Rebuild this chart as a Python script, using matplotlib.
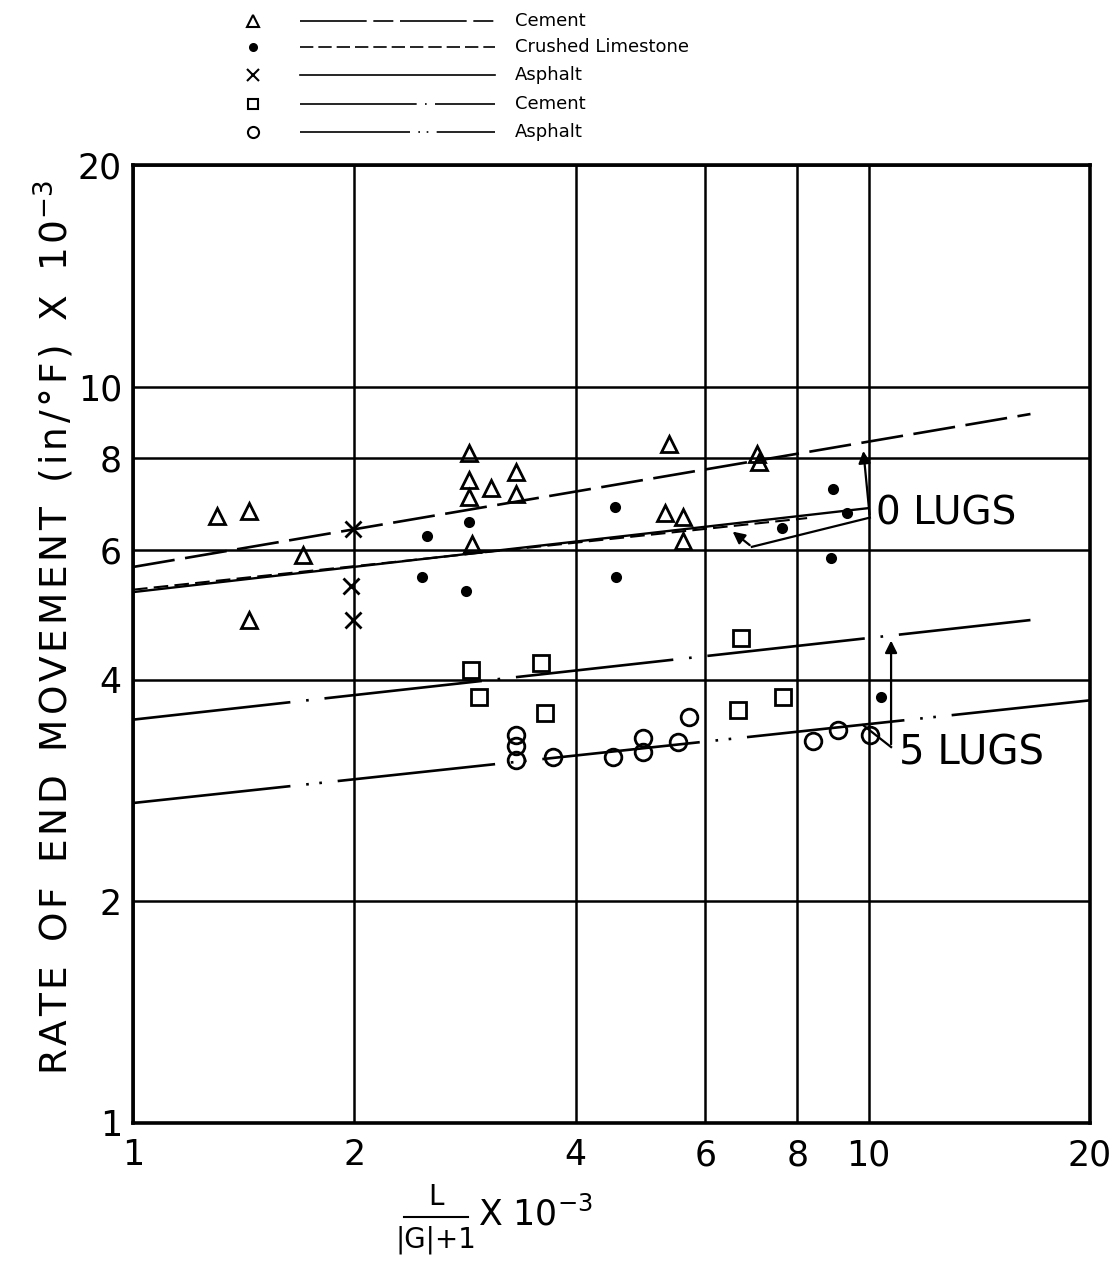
import matplotlib
matplotlib.use("Agg")
import matplotlib.pyplot as plt
from matplotlib.lines import Line2D

# ---- data: rate of end movement vs L/(|G|+1) ----
# 0 lugs
tri_x = [1.30, 1.44, 1.70, 1.44, 2.86, 2.86, 2.86, 3.07, 3.32, 3.32, 2.89,
         5.35, 5.29, 5.59, 5.59, 7.05, 7.10]
tri_y = [6.67, 6.78, 5.91, 4.82, 8.13, 7.47, 7.08, 7.28, 7.66, 7.15, 6.11,
         8.36, 6.74, 6.65, 6.17, 8.10, 7.90]

lime_x = [2.51, 2.86, 2.47, 2.84, 4.52, 4.54, 8.94, 8.88, 7.63, 9.34, 10.4]
lime_y = [6.27, 6.55, 5.51, 5.28, 6.86, 5.51, 7.26, 5.85, 6.43, 6.74, 3.79]

xa_x = [1.99, 1.98, 1.99]
xa_y = [6.41, 5.36, 4.82]

# 5 lugs
sq_x = [2.88, 2.95, 3.59, 3.63, 6.71, 6.64, 7.65]
sq_y = [4.12, 3.79, 4.21, 3.60, 4.56, 3.64, 3.79]

ci_x = [3.32, 3.32, 3.32, 3.72, 4.49, 4.94, 4.94, 5.51, 5.70, 8.40, 9.09, 10.05]
ci_y = [3.36, 3.25, 3.11, 3.14, 3.14, 3.33, 3.19, 3.29, 3.56, 3.30, 3.42, 3.36]

# fitted lines (end points)
tri_fit_x, tri_fit_y = [1.0, 16.6], [5.69, 9.18]
lime_fit_x, lime_fit_y = [1.0, 8.25], [5.30, 6.63]
xa_fit_x, xa_fit_y = [1.0, 10.0], [5.26, 6.84]
sq_fit_x, sq_fit_y = [1.0, 16.6], [3.53, 4.82]
ci_fit_x, ci_fit_y = [1.0, 20.0], [2.72, 3.75]

ticks = [1, 2, 4, 6, 8, 10, 20]
tick_labels = ["1", "2", "4", "6", "8", "10", "20"]

legend_labels = ["Cement", "Crushed Limestone", "Asphalt", "Cement", "Asphalt"]

# ---- styles ----
ls_tri = (0, (16, 4))
ls_lime = (0, (7, 3))
ls_xa = "-"
ls_sq = (0, (60, 6, 1, 6))
ls_ci = (0, (60, 6, 1, 4, 1, 6))

W, H = 1112, 1264
fig = plt.figure(figsize=(W / 100, H / 100), dpi=100)
ax = fig.add_axes([133 / W, 1 - 1123 / H, (1090 - 133) / W, (1123 - 165) / H])
ax.set_xscale("log")
ax.set_yscale("log")
ax.set_xlim(1, 20)
ax.set_ylim(1, 20)
ax.set_xticks(ticks)
ax.set_xticklabels(tick_labels)
ax.set_yticks(ticks)
ax.set_yticklabels(tick_labels)
ax.minorticks_off()
ax.tick_params(length=0, labelsize=25)
ax.tick_params(axis="x", pad=11)
ax.tick_params(axis="y", pad=8)
ax.grid(True, color="black", lw=1.8)
for s in ax.spines.values():
    s.set_linewidth(2.6)

# fitted lines
ax.plot(tri_fit_x, tri_fit_y, color="k", lw=1.9, linestyle=ls_tri)
ax.plot(lime_fit_x, lime_fit_y, color="k", lw=1.5, linestyle=ls_lime)
ax.plot(xa_fit_x, xa_fit_y, color="k", lw=1.7, linestyle=ls_xa)
ax.plot(sq_fit_x, sq_fit_y, color="k", lw=1.9, linestyle=ls_sq)
ax.plot(ci_fit_x, ci_fit_y, color="k", lw=1.9, linestyle=ls_ci)

# points
mk = dict(linestyle="none", color="k", markeredgewidth=2.0, zorder=5)
ax.plot(tri_x, tri_y, marker="^", ms=12, markerfacecolor="none", **mk)
ax.plot(lime_x, lime_y, marker="o", ms=6, markerfacecolor="k", **mk)
ax.plot(xa_x, xa_y, marker="x", ms=12, **mk)
ax.plot(sq_x, sq_y, marker="s", ms=11, markerfacecolor="none", **mk)
ax.plot(ci_x, ci_y, marker="o", ms=12, markerfacecolor="none", **mk)

# annotations
arr = dict(arrowstyle="-|>", color="k", lw=1.6, mutation_scale=18)
ax.annotate("", xy=(9.83, 8.25), xytext=(10.04, 6.64), arrowprops=arr)
ax.plot([10.04, 6.94], [6.64, 6.06], color="k", lw=1.6)
ax.annotate("", xy=(6.49, 6.39), xytext=(6.94, 6.06), arrowprops=arr)
ax.text(10.25, 6.72, "0 LUGS", fontsize=28, va="center", ha="left")

ax.annotate("", xy=(10.73, 4.56), xytext=(10.73, 3.24), arrowprops=arr)
ax.plot([10.73, 9.83], [3.24, 3.47], color="k", lw=1.6)
ax.text(11.0, 3.18, "5 LUGS", fontsize=29, va="center", ha="left")

# y-axis title, letter-spaced with hair spaces
hair = "\u200a"
words = ["RATE", "OF", "END", "MOVEMENT", "(in/°F)", "X", "10"]
spaced = "  ".join(hair.join(w) for w in words)
fig.text(54 / W, 1 - 628 / H, spaced + r"$^{-3}$",
         rotation=90, fontsize=27, ha="center", va="center",
         family=["DejaVu Sans"])

# x-axis title: L over |G|+1, times 10^-3
fx = 436
fig.text(fx / W, 1 - 1197 / H, "L", fontsize=20, ha="center", va="center")
fig.add_artist(Line2D([404 / W, 468 / W], [1 - 1217 / H, 1 - 1217 / H],
                      color="k", lw=1.5))
fig.text(fx / W, 1 - 1240 / H, "|G|+1", fontsize=20, ha="center", va="center")
fig.text(478 / W, 1 - 1214 / H, r"X 10$^{-3}$", fontsize=25,
         ha="left", va="center")

# legend drawn in figure pixel space
lg = fig.add_axes([0, 0, 1, 1], zorder=-1)
lg.set_xlim(0, W)
lg.set_ylim(H, 0)
lg.axis("off")
rows = [21, 47, 75, 104, 132]
markers = [("^", "none", 8), ("o", "k", 5), ("x", "k", 8), ("s", "none", 7), ("o", "none", 8)]
styles = [(0, (40, 4, 12, 4)), (0, (8, 3)), "-", (0, (70, 5, 1, 5)), (0, (66, 5, 1, 4, 1, 5))]
for ry, (m, fc, ms), st, lab in zip(rows, markers, styles, legend_labels):
    lg.plot([253], [ry], marker=m, ms=ms, markerfacecolor=fc, color="k",
            markeredgewidth=1.5, linestyle="none")
    lg.plot([300, 495], [ry, ry], color="k", lw=1.2, linestyle=st)
    lg.text(515, ry, lab, fontsize=13, va="center", ha="left")

fig.savefig("out.png", dpi=100, facecolor="white")
